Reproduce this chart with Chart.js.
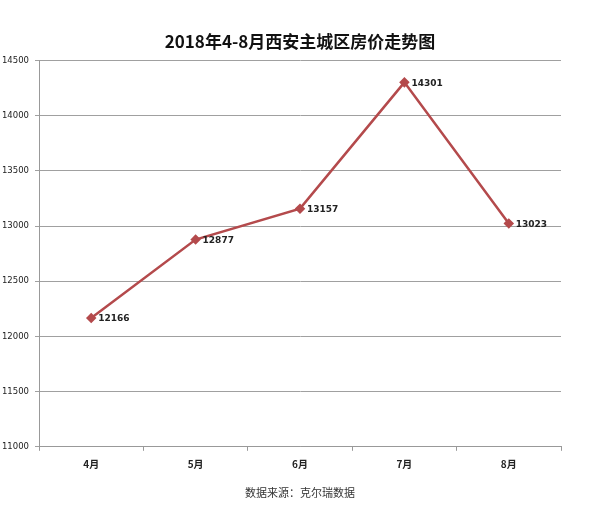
<!DOCTYPE html>
<html>
<head>
<meta charset="utf-8">
<script src="https://cdn.jsdelivr.net/npm/chart.js@4"></script>
<style>
  html, body { margin: 0; padding: 0; background: #fff; }
  #wrap { width: 600px; height: 516px; }
</style>
</head>
<body>
<div id="wrap"><canvas id="priceChart"></canvas></div>
<script>
// --- Data ---
const months = ["4月", "5月", "6月", "7月", "8月"];
const prices = [12166, 12877, 13157, 14301, 13023];
const yMin = 11000;
const yMax = 14500;
const yStep = 500;

const lineColor = "#b44a4c";
const cjkFont = "'Noto Sans CJK SC', 'Noto Sans', sans-serif";

// value labels to the right of each point
const pointLabels = {
  id: "pointLabels",
  afterDatasetsDraw(chart) {
    const ctx = chart.ctx;
    const meta = chart.getDatasetMeta(0);
    ctx.save();
    ctx.font = "bold 9px 'DejaVu Sans', sans-serif";
    ctx.fillStyle = "#222";
    ctx.textAlign = "left";
    ctx.textBaseline = "middle";
    meta.data.forEach((pt, i) => {
      ctx.fillText(prices[i], pt.x + 7, pt.y + 1);
    });
    ctx.restore();
  },
};

const ctx = document.getElementById("priceChart").getContext("2d");
new Chart(ctx, {
  type: "line",
  data: {
    labels: months,
    datasets: [
      {
        data: prices,
        borderColor: lineColor,
        borderWidth: 2.5,
        pointStyle: "rectRot",
        pointRadius: 3.5,
        pointBackgroundColor: lineColor,
        pointBorderColor: lineColor,
        tension: 0,
      },
    ],
  },
  options: {
    responsive: true,
    maintainAspectRatio: false,
    animation: false,
    layout: { padding: 0 },
    plugins: {
      legend: { display: false },
      tooltip: { enabled: false },
      title: {
        display: true,
        text: "2018年4-8月西安主城区房价走势图",
        color: "#111",
        font: { family: cjkFont, size: 17, weight: "bold", lineHeight: 1.2 },
        padding: { top: 31, bottom: 9 },
      },
      subtitle: {
        display: true,
        position: "bottom",
        text: "数据来源：克尔瑞数据",
        color: "#333",
        font: { family: cjkFont, size: 11, lineHeight: 1.2 },
        padding: { top: 10, bottom: 17 },
      },
    },
    scales: {
      x: {
        offset: true,
        afterFit: (scale) => { scale.height = 29; },
        grid: {
          offset: true,
          drawOnChartArea: false,
          drawTicks: true,
          tickLength: 4,
          color: "#999",
        },
        border: { color: "#999", width: 1 },
        ticks: {
          padding: 7,
          color: "#222",
          font: { family: cjkFont, size: 10, weight: "bold" },
        },
      },
      y: {
        min: yMin,
        max: yMax,
        afterFit: (scale) => { scale.width = 39; },
        grid: {
          color: "#a0a0a0",
          lineWidth: 1,
          drawTicks: true,
          tickLength: 4,
        },
        border: { color: "#999", width: 1 },
        ticks: {
          stepSize: yStep,
          padding: 6,
          color: "#222",
          font: { family: "'DejaVu Sans', sans-serif", size: 8.5 },
          callback: (value) => String(value),
        },
      },
      // empty right-hand axis, only keeps the plot area balanced
      yRight: {
        position: "right",
        afterFit: (scale) => { scale.width = 39; },
        grid: { display: false },
        border: { display: false },
        ticks: { display: false },
      },
    },
  },
  plugins: [pointLabels],
});
</script>
</body>
</html>
